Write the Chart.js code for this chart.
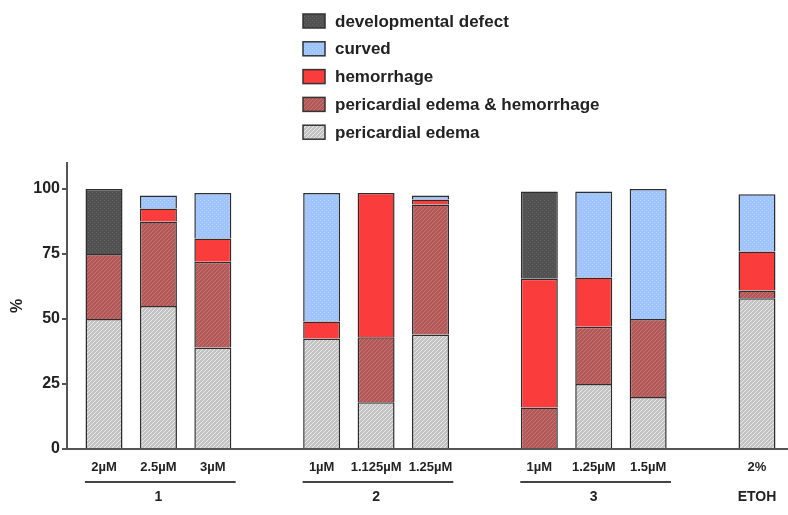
<!DOCTYPE html>
<html>
<head>
<meta charset="utf-8">
<script src="https://cdn.jsdelivr.net/npm/chart.js@4.4.1/dist/chart.umd.min.js"></script>
<style>
  html, body { margin: 0; padding: 0; background: #fff; }
  #wrap { width: 788px; height: 515px; }
</style>
</head>
<body>
<div id="wrap"><canvas id="chart"></canvas></div>
<script>
// dose labels under each bar, grouped by compound
const doseLabels = ['2µM', '2.5µM', '3µM', '1µM', '1.125µM', '1.25µM', '1µM', '1.25µM', '1.5µM', '2%'];
const groupNames = ['1', '2', '3', 'ETOH'];
const groupSizes = [3, 3, 3, 1];
const yTicks = [0, 25, 50, 75, 100];

// % of embryos per phenotype (stack order bottom -> top)
const edema      = [50, 55, 39, 42.5, 18, 44, 0, 25, 20, 58];
const edemaHem   = [25, 32.5, 33, 0, 25, 50, 16, 22, 30, 3];
const hemorrhage = [0, 5, 9, 6.5, 55.5, 2, 49.5, 19, 0, 15];
const curved     = [0, 5, 17.5, 49.5, 0, 1.5, 0, 33, 50, 22];
const devDefect  = [25, 0, 0, 0, 0, 0, 33.5, 0, 0, 0];

const FONT = '"Liberation Sans", Arial, sans-serif';

// bar slots: one empty slot between groups
const barPos = [];
let slot = 0;
groupSizes.forEach(n => {
    for (let j = 0; j < n; j++) barPos.push(slot + j);
    slot += n + 1;
});

function makePattern(base, mark, kind) {
    const c = document.createElement('canvas');
    c.width = 4; c.height = 4;
    const g = c.getContext('2d');
    g.fillStyle = base;
    g.fillRect(0, 0, 4, 4);
    g.fillStyle = mark;
    if (kind === 'hatch') {
        for (let i = 0; i < 4; i++) g.fillRect(i, 3 - i, 1, 1);
    } else {
        g.fillRect(0, 0, 1, 1);
        g.fillRect(2, 2, 1, 1);
    }
    return g.createPattern(c, 'repeat');
}

function series(label, values, fill) {
    return {
        label: label,
        data: values.map((v, i) => ({ x: barPos[i], y: v === 0 ? null : v })),
        backgroundColor: fill,
        borderColor: '#2e2e2e',
        borderWidth: 1.5,
    };
}

const datasets = [
    series('pericardial edema', edema, makePattern('#c3c3c3', '#e9e9e9', 'hatch')),
    series('pericardial edema & hemorrhage', edemaHem, makePattern('#b15858', '#c97272', 'hatch')),
    series('hemorrhage', hemorrhage, makePattern('#fd3a3a', '#f04a4a', 'dots')),
    series('curved', curved, makePattern('#9ec4fb', '#b4d2fd', 'dots')),
    series('developmental defect', devDefect, makePattern('#525252', '#616161', 'dots')),
];

// legend: one column, top entry = top of stack
const legendColumn = {
    id: 'legendColumn',
    afterDraw(chart) {
        const ctx = chart.ctx;
        ctx.save();
        ctx.font = 'bold 17px ' + FONT;
        ctx.textBaseline = 'middle';
        const items = chart.data.datasets.slice().reverse();
        items.forEach((ds, i) => {
            const y = 21 + i * 27.8;
            ctx.fillStyle = ds.backgroundColor;
            ctx.fillRect(303, y - 7, 22, 14);
            ctx.strokeStyle = '#333';
            ctx.lineWidth = 1.5;
            ctx.strokeRect(303, y - 7, 22, 14);
            ctx.fillStyle = '#222';
            ctx.fillText(ds.label, 335, y + 1);
        });
        ctx.restore();
    }
};

// underline + compound name below the dose labels
const groupAxis = {
    id: 'groupAxis',
    afterDraw(chart) {
        const ctx = chart.ctx;
        const xs = chart.scales.x;
        const base = chart.chartArea.bottom;
        ctx.save();
        ctx.font = 'bold 14px ' + FONT;
        ctx.fillStyle = '#222';
        ctx.textAlign = 'center';
        ctx.textBaseline = 'middle';
        let k = 0;
        groupNames.forEach((name, g) => {
            const first = barPos[k];
            const last = barPos[k + groupSizes[g] - 1];
            if (groupSizes[g] > 1) {
                ctx.strokeStyle = '#444';
                ctx.lineWidth = 2;
                ctx.beginPath();
                ctx.moveTo(xs.getPixelForValue(first - 0.35), base + 33);
                ctx.lineTo(xs.getPixelForValue(last + 0.42), base + 33);
                ctx.stroke();
            }
            ctx.fillText(name, xs.getPixelForValue((first + last) / 2), base + 48);
            k += groupSizes[g];
        });
        ctx.restore();
    }
};

new Chart(document.getElementById('chart'), {
    type: 'bar',
    data: { datasets: datasets },
    options: {
        responsive: true,
        maintainAspectRatio: false,
        animation: false,
        layout: { padding: { top: 163, right: 0, bottom: 0, left: 0 } },
        datasets: { bar: { barPercentage: 0.85, categoryPercentage: 0.8 } },
        plugins: { legend: { display: false }, tooltip: { enabled: false } },
        scales: {
            x: {
                type: 'linear',
                stacked: true,
                min: -0.68,
                max: 12.57,
                offset: false,
                afterFit: (scale) => { scale.height = 66; },
                afterBuildTicks: (scale) => { scale.ticks = barPos.map(v => ({ value: v })); },
                grid: { display: false, drawTicks: false },
                border: { display: true, color: '#555', width: 2 },
                ticks: {
                    autoSkip: false,
                    maxRotation: 0,
                    padding: 11,
                    color: '#222',
                    font: { family: FONT, size: 13, weight: 'bold' },
                    callback: (value, index) => doseLabels[index],
                },
            },
            y: {
                stacked: true,
                min: 0,
                max: 110,
                afterFit: (scale) => { scale.width = 67; },
                afterBuildTicks: (scale) => { scale.ticks = yTicks.map(v => ({ value: v })); },
                grid: { drawOnChartArea: false, drawTicks: true, tickLength: 5, color: '#555', lineWidth: 2 },
                border: { display: true, color: '#555', width: 2 },
                title: {
                    display: true,
                    text: '%',
                    color: '#222',
                    font: { family: FONT, size: 16, weight: 'bold' },
                    padding: { top: 8, bottom: 0 },
                },
                ticks: {
                    padding: 2,
                    color: '#222',
                    font: { family: FONT, size: 16, weight: 'bold' },
                },
            },
        },
    },
    plugins: [legendColumn, groupAxis],
});
</script>
</body>
</html>
